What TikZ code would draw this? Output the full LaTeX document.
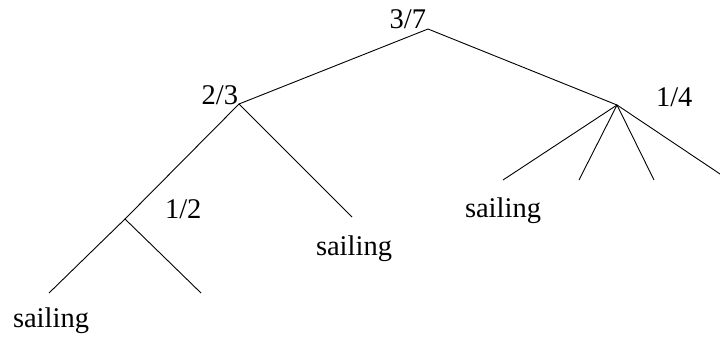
\documentclass[tikz,border=0pt]{standalone}
\usepackage{fontspec}
\setmainfont{Liberation Serif}
\begin{document}
\begin{tikzpicture}[x=1pt,y=-1pt,
  edge/.style={draw=black,line width=0.9pt},
  lbl/.style={font=\fontsize{28.5}{30}\selectfont,inner sep=0pt,outer sep=0pt}]
\useasboundingbox (0,0) rectangle (720,343);
\clip (0,0) rectangle (720,343);
% branching points
\coordinate (r) at (428,29);
\coordinate (a) at (239,104);
\coordinate (b) at (617,105);
\coordinate (c) at (125,219);
% leaves
\coordinate (c1) at (49,293);
\coordinate (c2) at (201,293);
\coordinate (a2) at (352,217);
\coordinate (b1) at (503,180);
\coordinate (b2) at (579,180);
\coordinate (b3) at (654,180);
\coordinate (b4) at (729,180);
% edges
\draw[edge] (a) -- (r) -- (b);
\draw[edge] (c) -- (a) -- (a2);
\draw[edge] (c1) -- (c) -- (c2);
\draw[edge] (b) -- (b1);
\draw[edge] (b) -- (b2);
\draw[edge] (b) -- (b3);
\draw[edge] (b) -- (b4);
% values
\node[lbl,anchor=base east] (tr) at (426,28) {3/7};
\node[lbl,anchor=base east] (ta) at (238,104) {2/3};
\node[lbl,anchor=base west] (tb) at (656,106) {1/4};
\node[lbl,anchor=base west] (tc) at (165,218) {1/2};
% leaf words
\node[lbl,anchor=base] (s1) at (51,327) {sailing};
\node[lbl,anchor=base] (s2) at (354,255) {sailing};
\node[lbl,anchor=base] (s3) at (503,217) {sailing};
\end{tikzpicture}
\end{document}
